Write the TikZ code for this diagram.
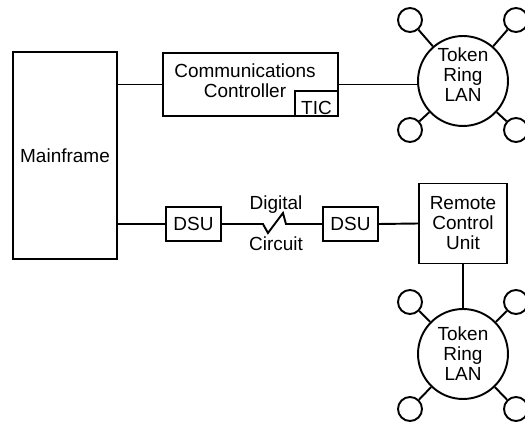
\documentclass[tikz,border=0pt]{standalone}
\usepackage{fontspec}
\setmainfont{Liberation Sans}
\usepackage{tikz}
\usetikzlibrary{positioning}
\newcommand{\netfont}{\fontsize{10.8}{11.4}\selectfont}

\begin{document}
\begin{tikzpicture}[x=0.02cm, y=-0.02cm, line width=1.1pt,
  box/.style={draw, fill=white, align=center, font=\netfont},
  ring/.style={draw, circle, minimum size=1.8cm, inner sep=0pt, align=center, font=\netfont},
  station/.style={draw, circle, minimum size=0.48cm, inner sep=0pt},
  tag/.style={align=center, font=\netfont}]
  \useasboundingbox (0,0) rectangle (525,422);

  % host and front end
  \node[box, minimum width=2.08cm, minimum height=4.14cm] (mf) at (65,155.5) {Mainframe};
  \node[box, minimum width=3.5cm, minimum height=1.26cm] (cc) at (250.5,84.5) {};
  \node[tag] (cctxt) at (245,81) {Communications\\Controller};
  \node[box, minimum width=0.86cm, minimum height=0.5cm, inner sep=0pt,
    text height=0.44cm, text depth=0pt, anchor=south east] (tic) at (cc.south east) {TIC};

  % local ring
  \node[ring] (ring1) at (463,81) {};
  \node[tag] (ring1txt) at (463,75) {Token\\Ring\\LAN};
  \foreach \n/\sx/\sy in {1/410/20, 2/516/20, 3/410/130, 4/516/130} {
    \node[station] (ra\n) at (\sx,\sy) {};
    \draw (ra\n) -- (ring1);
  }

  % remote side over the digital circuit
  \node[box, minimum width=1.1cm, minimum height=0.68cm] (dsu1) at (193.5,224) {DSU};
  \node[box, minimum width=1.1cm, minimum height=0.68cm] (dsu2) at (350.5,224) {DSU};
  \node[box, minimum width=1.76cm, minimum height=1.6cm] (rcu) at (463,223.5) {Remote\\Control\\Unit};
  \node[tag] (dig) at (276,205) {Digital};
  \node[tag] (circ) at (276,244) {Circuit};

  % remote ring
  \node[ring] (ring2) at (463,354) {Token\\Ring\\LAN};
  \foreach \n/\sx/\sy in {1/410/302, 2/516/302, 3/410/409, 4/516/409} {
    \node[station] (rb\n) at (\sx,\sy) {};
    \draw (rb\n) -- (ring2);
  }

  % links
  \draw (cc.west -| mf.east) -- (cc.west);
  \draw (cc.east) -- (cc.east -| ring1.west);
  \draw (dsu1.west -| mf.east) -- (dsu1.west);
  \draw (dsu1.east) -- ++(41,0) -- ++(5,9) -- ++(15,-20) -- ++(3,11) -- (dsu2.west);
  \draw (dsu2.east) -- (rcu.west);
  \draw (rcu.south) -- (ring2.north);
\end{tikzpicture}
\end{document}
